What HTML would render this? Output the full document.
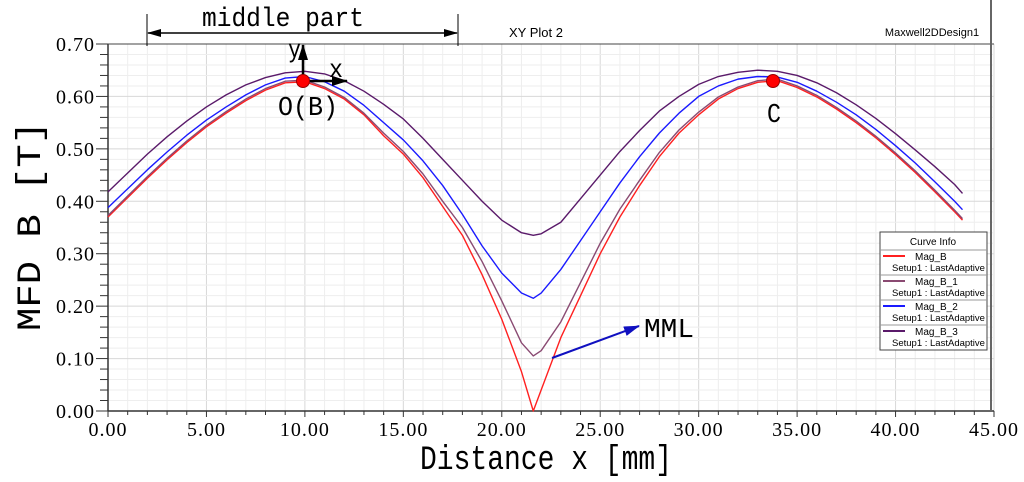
<!DOCTYPE html>
<html><head><meta charset="utf-8"><style>
body{margin:0;background:#fff;width:1024px;height:477px;overflow:hidden}
text{font-family:"Liberation Serif",serif}
</style></head><body>
<svg id="c" width="1024" height="477" xmlns="http://www.w3.org/2000/svg">
<defs><marker id="ah" markerWidth="14" markerHeight="8" refX="13" refY="4" orient="auto-start-reverse" markerUnits="userSpaceOnUse"><path d="M0,0 L14,4 L0,8 z" fill="#000"/></marker>
<marker id="ah2" markerWidth="16" markerHeight="10" refX="15" refY="5" orient="auto" markerUnits="userSpaceOnUse"><path d="M0,0 L16,5 L0,10 z" fill="#000"/></marker>
<marker id="ahb" markerWidth="16" markerHeight="10" refX="15" refY="5" orient="auto" markerUnits="userSpaceOnUse"><path d="M0,0 L16,5 L0,10 z" fill="#1010c0"/></marker></defs>
<g id="grid"></g><g id="axes"></g><g id="series"></g>
<text x="536" y="37" font-size="13" text-anchor="middle" style="font-family:'Liberation Sans',sans-serif">XY Plot 2</text>
<text x="932" y="36" font-size="11" text-anchor="middle" style="font-family:'Liberation Sans',sans-serif">Maxwell2DDesign1</text>
<text x="40" y="226" font-size="34" text-anchor="middle" textLength="210" lengthAdjust="spacingAndGlyphs" transform="rotate(-90 40 226)" style="font-family:'Liberation Mono',monospace">MFD B [T]</text>
<text x="420" y="469" font-size="34" textLength="252" lengthAdjust="spacingAndGlyphs" style="font-family:'Liberation Mono',monospace">Distance x [mm]</text>
<g>
<line x1="147" y1="14" x2="147" y2="46" stroke="#000"/><line x1="458" y1="14" x2="458" y2="46" stroke="#000"/>
<line x1="148" y1="33" x2="457" y2="33" stroke="#000" stroke-width="1.5" marker-start="url(#ah)" marker-end="url(#ah)"/>
<text x="202" y="26" font-size="27" textLength="162" lengthAdjust="spacingAndGlyphs" style="font-family:'Liberation Mono',monospace">middle part</text></g>
<g>
<line x1="303" y1="81" x2="303" y2="45" stroke="#000" stroke-width="2.5" marker-end="url(#ah2)"/>
<line x1="303" y1="81" x2="347" y2="81" stroke="#000" stroke-width="2.5" marker-end="url(#ah2)"/>
<circle cx="303" cy="81" r="6.5" fill="#f00" stroke="#900"/>
<text x="288" y="57" font-size="26" textLength="13" lengthAdjust="spacingAndGlyphs" style="font-family:'Liberation Mono',monospace">y</text>
<text x="329" y="77" font-size="26" textLength="14" lengthAdjust="spacingAndGlyphs" style="font-family:'Liberation Mono',monospace">x</text>
<text x="278" y="115" font-size="27" textLength="60" lengthAdjust="spacingAndGlyphs" style="font-family:'Liberation Mono',monospace">O(B)</text></g>
<g><circle cx="773" cy="81" r="6.5" fill="#f00" stroke="#900"/>
<text x="767" y="122" font-size="27" textLength="14" lengthAdjust="spacingAndGlyphs" style="font-family:'Liberation Mono',monospace">C</text></g>
<g><line x1="552" y1="358" x2="639" y2="326" stroke="#1010c0" stroke-width="2" marker-end="url(#ahb)"/>
<text x="644" y="337" font-size="27" textLength="50" lengthAdjust="spacingAndGlyphs" style="font-family:'Liberation Mono',monospace">MML</text></g>
<g>
<rect x="880" y="232" width="107" height="118" fill="#fff" stroke="#444"/>
<text x="933" y="245" font-size="10" text-anchor="middle" style="font-family:'Liberation Sans',sans-serif">Curve Info</text>
<g id="leg"></g></g>
</svg>
<script>
const xs=[0,1,2,3,4,5,6,7,8,9,10,11,12,13,14,15,16,17,18,19,20,21,21.6,22,23,24,25,26,27,28,29,30,31,32,33,34,35,36,37,38,39,40,41,42,43,43.4];
const magB=[.37,.407,.444,.479,.512,.542,.568,.592,.612,.626,.628,.615,.595,.565,.525,.49,.445,.39,.335,.26,.175,.075,0,.04,.14,.22,.30,.37,.43,.485,.53,.565,.595,.615,.627,.63,.617,.599,.576,.55,.521,.489,.455,.418,.38,.364];
const magB1=[.373,.41,.447,.482,.515,.545,.571,.595,.615,.629,.631,.618,.598,.568,.53,.495,.452,.4,.35,.285,.21,.13,.105,.115,.17,.245,.32,.385,.44,.493,.536,.57,.599,.618,.63,.633,.62,.602,.579,.553,.524,.492,.458,.421,.383,.367];
const magB2=[.388,.424,.46,.494,.526,.555,.58,.603,.622,.635,.638,.628,.61,.583,.55,.517,.477,.43,.375,.315,.263,.225,.215,.225,.27,.325,.38,.435,.485,.53,.568,.6,.62,.633,.638,.637,.627,.61,.589,.565,.537,.506,.473,.437,.4,.384];
const magB3=[.418,.454,.49,.523,.553,.58,.603,.622,.636,.645,.648,.643,.63,.61,.585,.557,.52,.48,.44,.4,.364,.34,.335,.338,.36,.405,.45,.495,.535,.572,.6,.623,.638,.646,.65,.648,.64,.626,.607,.584,.558,.529,.498,.466,.432,.415];
const seriesNames=["Mag_B","Mag_B_1","Mag_B_2","Mag_B_3"];
const xTicks=["0.00","5.00","10.00","15.00","20.00","25.00","30.00","35.00","40.00","45.00"];
const yTicks=["0.00","0.10","0.20","0.30","0.40","0.50","0.60","0.70"];
const NS="http://www.w3.org/2000/svg";
const X0=108,X1=994,Y0=411,Y1=44;
const sx=v=>X0+(v/45)*(X1-X0), sy=v=>Y0-(v/0.7)*(Y0-Y1);
function mk(p,t,a){const e=document.createElementNS(NS,t);for(const k in a)e.setAttribute(k,a[k]);p.appendChild(e);return e;}
const g=document.getElementById('grid'),ax=document.getElementById('axes'),s=document.getElementById('series'),lg=document.getElementById('leg');
for(let i=0;i<=45;i++){const l=mk(g,'line',{x1:sx(i),x2:sx(i),y1:Y1,y2:Y0,stroke:i%5?'#eeeeee':'#d8d8d8'});


mk(ax,'line',{x1:sx(i),x2:sx(i),y1:Y0,y2:Y0+(i%5?4:6),stroke:'#333'});}
for(let i=0;i<=35;i++){const v=i*0.02;const l=mk(g,'line',{x1:X0,x2:X1,y1:sy(v),y2:sy(v),stroke:i%5?'#eeeeee':'#d8d8d8'});


mk(ax,'line',{x1:X0-(i%5?8:12),x2:X0,y1:sy(v),y2:sy(v),stroke:'#333'});}
mk(ax,'line',{x1:X0,x2:X1,y1:Y0,y2:Y0,stroke:'#333','stroke-width':1.5});
mk(ax,'line',{x1:X0,x2:X0,y1:Y1,y2:Y0,stroke:'#333','stroke-width':1.5});
mk(ax,'line',{x1:X0,x2:X1,y1:Y1,y2:Y1,stroke:'#444'});
mk(ax,'line',{x1:X1-3,x2:X1-3,y1:0,y2:Y0,stroke:'#666','stroke-width':2});
xTicks.forEach((t,i)=>{const e=mk(ax,'text',{x:sx(parseFloat(t)),y:Y0+25,'font-size':20,'text-anchor':'middle','letter-spacing':'1'});e.textContent=t;

});
yTicks.forEach(t=>{const e=mk(ax,'text',{x:X0-13,y:sy(parseFloat(t))+7,'font-size':20,'text-anchor':'end','letter-spacing':'1'});e.textContent=t;

});
const data=[magB,magB1,magB2,magB3],cols=['#ff2020','#8a4a72','#1a1aff','#5a1a6a'];
data.forEach((d,k)=>{const p=mk(s,'polyline',{points:xs.map((x,i)=>sx(x)+','+sy(d[i])).join(' '),fill:'none',stroke:cols[k],'stroke-width':1.4,'stroke-linejoin':'round'});


const y=250+k*25;mk(lg,'line',{x1:880,x2:987,y1:y,y2:y,stroke:'#999'});
mk(lg,'line',{x1:883,x2:905,y1:y+6,y2:y+6,stroke:cols[k],'stroke-width':2});
const a=mk(lg,'text',{x:915,y:y+10,'font-size':10,style:"font-family:'Liberation Sans',sans-serif"});a.textContent=seriesNames[k];


const b=mk(lg,'text',{x:892,y:y+21,'font-size':9.5,style:"font-family:'Liberation Sans',sans-serif"});b.textContent='Setup1 : LastAdaptive';});
</script>
</body></html>
